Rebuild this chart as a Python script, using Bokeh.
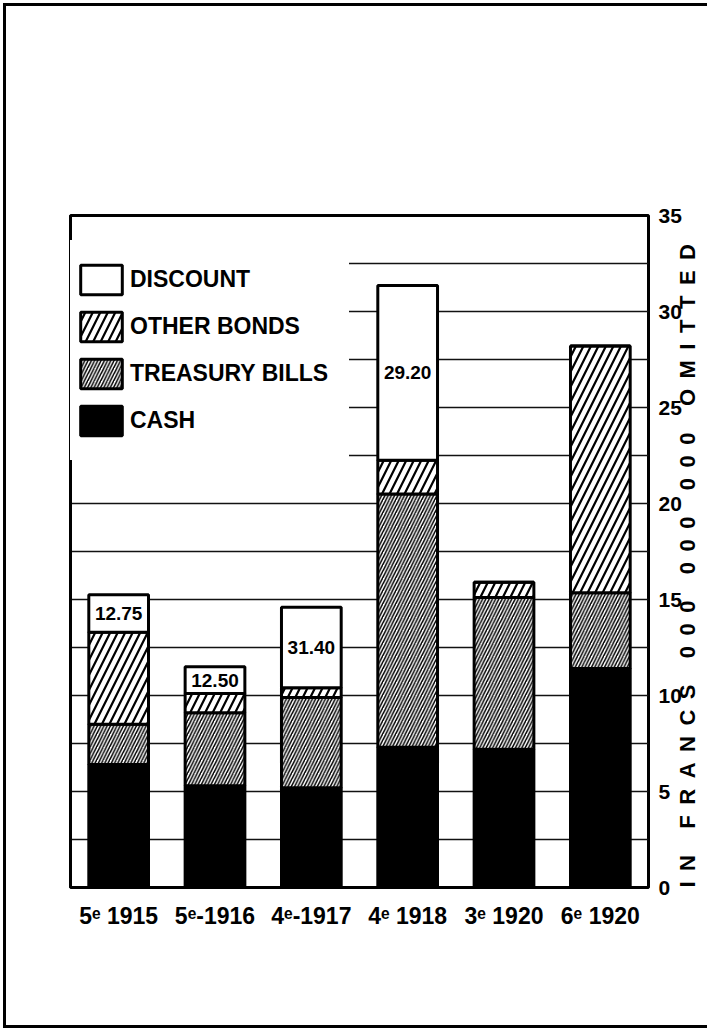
import math
from bokeh.plotting import figure
from bokeh.models import (ColumnDataSource, Legend, LegendItem, SingleIntervalTicker,
                          FixedTicker, FactorRange, LinearAxis)
from bokeh.core.properties import value
from bokeh.embed import file_html
from bokeh.resources import INLINE

# ---- data (billions of francs) ----
periods = ["5ᵉ 1915", "5ᵉ-1916", "4ᵉ-1917", "4ᵉ 1918", "3ᵉ 1920", "6ᵉ 1920"]
cash = [6.4, 5.3, 5.2, 7.3, 7.2, 11.4]
treasury_bills = [2.1, 3.8, 4.7, 13.2, 7.9, 3.95]
other_bonds = [4.8, 1.0, 0.5, 1.75, 0.8, 12.85]
discount = [1.95, 1.4, 4.2, 9.1, 0.0, 0.0]
bar_notes = ["12.75", "12.50", "31.40", "29.20", "", ""]
y_ticks_step = 5
grid_step = 2.5
axis_title = "IN FRANCS 000 000 000 OMITTED"

FONT = "'Liberation Sans', Arial, sans-serif"

# label position = middle of the discount segment
base = [c + t + o for c, t, o in zip(cash, treasury_bills, other_bonds)]
note_y = [b + d / 2 for b, d in zip(base, discount)]

src = ColumnDataSource(dict(period=periods, cash=cash, treasury=treasury_bills,
                            other=other_bonds, discount=discount))
note_src = ColumnDataSource(dict(period=periods, y=note_y, text=bar_notes))

p = figure(x_range=FactorRange(factors=periods, range_padding=0), y_range=(0, 35),
           frame_width=578, frame_height=672,
           min_border_left=64, min_border_top=209, min_border_right=50, min_border_bottom=138,
           output_backend="svg", toolbar_location=None, y_axis_location="right",
           background_fill_color="white", border_fill_color="white")
p.styles = {"border": "3px solid black", "margin-left": "3px", "margin-top": "3px"}

p.outline_line_color = "black"
p.outline_line_width = 3

p.xgrid.visible = False
p.ygrid.ticker = SingleIntervalTicker(interval=grid_step)
p.ygrid.grid_line_color = "#111111"
p.ygrid.grid_line_width = 1.6

renderers = p.vbar_stack(["cash", "treasury", "other", "discount"], x="period", source=src,
                         width=0.62,
                         fill_color=["black", "white", "white", "white"],
                         hatch_pattern=[" ", "/", "/", " "],
                         hatch_color="black",
                         hatch_scale=[1, 6.5, 15, 1],
                         hatch_weight=[1, 1.5, 2.2, 1],
                         line_color="black", line_width=3)

p.text(x="period", y="y", text="text", source=note_src, text_align="center",
       text_baseline="middle", text_font=value(FONT), text_font_style="bold",
       text_font_size="19px", text_color="black")

names = ["CASH", "TREASURY BILLS", "OTHER BONDS", "DISCOUNT"]
items = [LegendItem(label=n, renderers=[r]) for n, r in zip(names, renderers)][::-1]
legend = Legend(items=items, location=(-16, 427), orientation="vertical",
                glyph_width=52, glyph_height=37, spacing=10, padding=21, margin=0,
                label_standoff=3, label_text_font=FONT, label_text_font_style="bold",
                label_text_font_size="23px", label_text_color="black",
                background_fill_color="white", background_fill_alpha=1.0,
                border_line_color="white", border_line_alpha=0.0)
legend.level = "underlay"
p.add_layout(legend)

# left edge line drawn above the legend box
left_edge = LinearAxis(ticker=FixedTicker(ticks=[]), major_tick_line_color=None,
                       minor_tick_line_color=None, axis_line_color="black", axis_line_width=3)
p.add_layout(left_edge, "left")

# x axis
xa = p.below[0]
xa.axis_line_color = None
xa.major_tick_line_color = None
xa.minor_tick_line_color = None
xa.major_label_text_font = FONT
xa.major_label_text_font_style = "bold"
xa.major_label_text_font_size = "23px"
xa.major_label_text_color = "black"
xa.major_label_standoff = 9

# right y axis
ya = p.right[0]
ya.ticker = SingleIntervalTicker(interval=y_ticks_step)
ya.axis_line_color = None
ya.major_tick_line_color = None
ya.minor_tick_line_color = None
ya.major_label_text_font = FONT
ya.major_label_text_font_style = "bold"
ya.major_label_text_font_size = "21px"
ya.major_label_text_color = "black"
ya.major_label_standoff = 4

# axis title, reading bottom to top, letter-spaced
gap = "\u00a0\u2009"
word_gap = "\u00a0\u00a0\u00a0\u00a0\u200a"
ya.axis_label = word_gap.join(gap.join(w) for w in axis_title.split(" "))
ya.axis_label_orientation = math.pi / 2
if "axis_label_align" in ya.properties():
    ya.axis_label_align = "start"
ya.axis_label_text_font = FONT
ya.axis_label_text_font_style = "bold"
ya.axis_label_text_font_size = "22px"
ya.axis_label_text_color = "black"
ya.axis_label_standoff = 3

open("out.html", "w").write(file_html(p, INLINE))
